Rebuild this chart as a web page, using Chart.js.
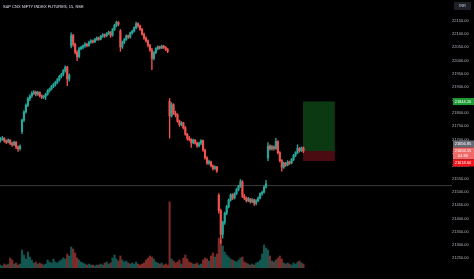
<!DOCTYPE html>
<html>
<head>
<meta charset="utf-8">
<script src="https://cdn.jsdelivr.net/npm/chart.js@4.4.1/dist/chart.umd.min.js"></script>
<style>
  html, body { margin: 0; padding: 0; background: #000; }
  #wrap { width: 474px; height: 279px; position: relative; }
</style>
</head>
<body>
<div id="wrap"><canvas id="myChart"></canvas></div>
<script>
// 15 min candles, Nifty futures, Jan 2024 (index 0 = first visible bar)
const chartTitle = 'S&P CNX NIFTY INDEX FUTURES, 15, NSE';
const currency = 'INR';
const dayLabels = ['12', '15', '16', '17', '18', '19', '20', '22', '23', '24'];
const dayStarts = [11, 36, 61, 86, 111, 136, 161, 175, 200, 225];

// [open, high, low, close]
const candles = [
  // 11
  [21695,21708,21690,21700],[21700,21712,21697,21705],[21705,21707,21690,21695],[21695,21699,21684,21690],
  [21690,21703,21687,21698],[21698,21700,21680,21685],[21685,21690,21674,21680],[21680,21694,21677,21690],
  [21690,21692,21665,21672],[21672,21676,21655,21665],[21665,21680,21660,21675],
  // 12
  [21730,21778,21722,21774],[21774,21810,21768,21805],[21805,21836,21800,21830],[21830,21860,21825,21855],
  [21855,21870,21848,21866],[21866,21882,21860,21876],[21876,21886,21870,21880],[21880,21884,21866,21872],
  [21872,21883,21868,21879],[21879,21881,21862,21866],[21866,21870,21855,21860],[21860,21868,21856,21864],
  [21864,21876,21852,21872],[21872,21889,21868,21885],[21885,21896,21880,21892],[21892,21906,21888,21902],
  [21902,21914,21897,21910],[21910,21922,21903,21918],[21918,21932,21912,21928],[21928,21944,21922,21940],
  [21940,21952,21934,21948],[21948,21966,21942,21962],[21962,21980,21956,21975],[21975,21978,21905,21930],
  [21930,21950,21922,21945],
  // 15
  [22055,22105,22048,22095],[22095,22100,22055,22062],[22062,22066,22025,22032],[22032,22038,22000,22015],
  [22015,22050,22010,22045],[22045,22055,22040,22050],[22050,22060,22044,22056],[22056,22068,22050,22062],
  [22062,22065,22052,22057],[22057,22074,22054,22070],[22070,22080,22065,22075],[22075,22078,22066,22071],
  [22071,22084,22068,22080],[22080,22090,22076,22086],[22086,22089,22076,22081],[22081,22096,22078,22092],
  [22092,22102,22088,22098],[22098,22101,22088,22094],[22094,22106,22090,22102],[22102,22112,22098,22108],
  [22108,22110,22088,22096],[22096,22122,22092,22118],[22118,22138,22114,22134],[22134,22150,22128,22145],
  [22145,22148,22132,22138],
  // 16
  [22112,22118,22035,22052],[22052,22074,22046,22070],[22070,22084,22064,22080],[22080,22098,22076,22094],
  [22094,22097,22084,22089],[22089,22108,22085,22105],[22105,22116,22100,22112],[22112,22128,22108,22125],
  [22125,22146,22120,22140],[22140,22143,22126,22132],[22132,22135,22114,22118],[22118,22122,22096,22100],
  [22100,22104,22080,22085],[22085,22090,22070,22075],[22075,22079,22052,22058],[22058,22062,22035,22040],
  [22040,22046,21965,22008],[22008,22034,22002,22030],[22030,22049,22026,22045],[22045,22056,22040,22052],
  [22052,22055,22043,22048],[22048,22059,22045,22055],[22055,22058,22046,22050],[22050,22053,22038,22042],
  [22042,22046,22030,22035],
  // 17
  [21845,21856,21705,21790],[21790,21840,21785,21832],[21832,21836,21795,21800],[21800,21808,21786,21794],
  [21794,21798,21765,21770],[21770,21774,21750,21756],[21756,21768,21752,21763],[21763,21766,21740,21745],
  [21745,21750,21716,21720],[21720,21724,21698,21705],[21705,21712,21695,21700],[21700,21704,21670,21688],
  [21688,21702,21684,21698],[21698,21700,21682,21686],[21686,21690,21670,21676],[21676,21690,21672,21686],
  [21686,21700,21680,21696],[21696,21698,21655,21660],[21660,21664,21625,21630],[21630,21635,21605,21610],
  [21610,21622,21605,21616],[21616,21618,21596,21600],[21600,21604,21584,21590],[21590,21600,21586,21596],
  [21596,21598,21575,21580],
  // 18
  [21488,21495,21420,21430],[21430,21436,21305,21340],[21340,21390,21325,21385],[21385,21424,21378,21420],
  [21420,21450,21414,21445],[21445,21474,21440,21470],[21470,21494,21466,21490],[21490,21494,21472,21478],
  [21478,21498,21474,21495],[21495,21514,21490,21510],[21510,21526,21505,21522],[21522,21548,21518,21540],
  [21540,21544,21480,21485],[21485,21492,21472,21478],[21478,21482,21462,21468],[21468,21480,21464,21474],
  [21474,21477,21458,21464],[21464,21476,21460,21471],[21471,21474,21450,21458],[21458,21472,21452,21468],
  [21468,21482,21464,21478],[21478,21498,21474,21495],[21495,21504,21488,21500],[21500,21524,21496,21520],
  [21520,21545,21515,21532],
  // 19
  [21630,21688,21620,21675],[21675,21680,21660,21665],[21665,21678,21660,21672],[21672,21676,21660,21667],
  [21667,21705,21662,21692],[21692,21696,21645,21650],[21650,21654,21615,21620],[21620,21624,21580,21595],
  [21595,21614,21590,21610],[21610,21613,21598,21604],[21604,21620,21600,21615],[21615,21618,21605,21611],
  [21611,21628,21608,21625],[21625,21644,21620,21640],[21640,21654,21635,21650],[21650,21680,21646,21666],
  [21666,21670,21652,21658],[21658,21672,21654,21668],[21668,21672,21650,21656.55]
];

// volume, thousand contracts (estimated)
const volumes = [
  3,2,4,3,4,10,8,4,5,3,4,
  18,13,9,16,11,8,5,6,4,5,4,3,4,8,6,5,9,6,5,7,8,10,9,14,12,
  21,19,15,10,8,6,5,4,3,4,3,3,2,3,3,4,3,5,6,4,5,10,13,9,7,
  12,8,6,7,5,4,5,4,6,4,3,4,5,8,10,12,11,9,6,5,4,5,3,4,3,
  66,9,7,5,6,8,4,10,13,9,6,5,4,4,5,3,4,8,10,9,7,12,15,11,14,
  30,28,22,16,13,11,9,8,7,6,8,10,11,6,5,4,3,4,3,5,6,8,14,23,20,
  18,12,7,6,8,10,12,9,5,4,5,4,3,5,4,6,7,5,4
];

const lineLevel = 21525;
const targetPrice = 21844.20;
const entryPrice = 21656.85;
const stopPrice = 21618.60;
const positionFrom = 153.7;
const positionTo = 170;
const lastPrice = 21656.55;
const countdown = '04:30';

const UP = '#26a69a', DOWN = '#ef5350';
const isUp = c => c[3] >= c[0];

const tvOverlay = {
  id: 'tvOverlay',
  beforeDraw(chart) {
    const ctx = chart.ctx;
    ctx.save();
    ctx.fillStyle = '#000';
    ctx.fillRect(0, 0, chart.width, chart.height);
    ctx.restore();
  },
  afterDraw(chart) {
    const ctx = chart.ctx;
    const area = chart.chartArea;
    const y = chart.scales.y;
    ctx.save();
    ctx.font = '4px "Liberation Sans", Arial, sans-serif';
    ctx.textBaseline = 'middle';

    // title
    ctx.fillStyle = '#e0e3eb';
    ctx.textAlign = 'left';
    ctx.fillText(chartTitle, 3, 6.5);

    // currency box
    ctx.fillStyle = '#1e2028';
    ctx.fillRect(454, 2, 17, 8);
    ctx.fillStyle = '#c8cbd3';
    ctx.textAlign = 'center';
    ctx.fillText(currency, 462.5, 6.2);

    const cx = (area.right + chart.width) / 2;
    const badge = (cy, h, bg, lines) => {
      ctx.fillStyle = bg;
      ctx.fillRect(area.right + 1, cy - h / 2, chart.width - area.right - 1, h);
      ctx.fillStyle = '#ffffff';
      ctx.textAlign = 'center';
      lines.forEach((t, k) => {
        ctx.fillText(t, cx, cy - (lines.length - 1) * 2.5 + k * 5 + 0.3);
      });
    };

    badge(y.getPixelForValue(targetPrice), 7, '#1f9d35', [targetPrice.toFixed(2)]);
    const lastY = y.getPixelForValue(lastPrice);
    const lastTop = lastY - 3.5, lastH = 12;
    badge(lastTop - 3.5, 7, '#676a75', [entryPrice.toFixed(2)]);
    badge(lastTop + lastH / 2, lastH, '#ef6a68', [lastPrice.toFixed(2), countdown]);
    badge(Math.max(y.getPixelForValue(stopPrice), lastTop + lastH + 3.5), 7, '#f2141a', [stopPrice.toFixed(2)]);
    ctx.restore();
  }
};

const ctx = document.getElementById('myChart').getContext('2d');

new Chart(ctx, {
  type: 'bar',
  data: {
    datasets: [
      {
        type: 'line',
        data: [{ x: positionFrom, y: targetPrice }, { x: positionTo, y: targetPrice }],
        fill: { value: entryPrice },
        backgroundColor: '#0b3a12',
        borderWidth: 0,
        pointRadius: 0,
        order: 9
      },
      {
        type: 'line',
        data: [{ x: positionFrom, y: stopPrice }, { x: positionTo, y: stopPrice }],
        fill: { value: entryPrice },
        backgroundColor: '#4a0c10',
        borderWidth: 0,
        pointRadius: 0,
        order: 8
      },
      {
        type: 'line',
        data: [{ x: -5, y: lineLevel }, { x: 240, y: lineLevel }],
        borderColor: '#3b3b3b',
        borderWidth: 1,
        pointRadius: 0,
        order: 7
      },
      {
        yAxisID: 'yVol',
        data: volumes.map((v, i) => ({ x: i, y: v })),
        backgroundColor: candles.map(c => isUp(c) ? 'rgba(38,166,154,0.5)' : 'rgba(239,83,80,0.5)'),
        barThickness: 1.5,
        grouped: false,
        order: 6
      },
      {
        data: candles.map((c, i) => ({ x: i, y: [c[2], c[1]] })),
        backgroundColor: candles.map(c => isUp(c) ? UP : DOWN),
        barThickness: 0.7,
        grouped: false,
        order: 2
      },
      {
        data: candles.map((c, i) => ({ x: i, y: [c[0], c[3]] })),
        backgroundColor: candles.map(c => isUp(c) ? UP : DOWN),
        barThickness: 1.5,
        minBarLength: 1,
        grouped: false,
        order: 1
      }
    ]
  },
  options: {
    responsive: true,
    maintainAspectRatio: false,
    animation: false,
    events: [],
    layout: { padding: 0 },
    plugins: { legend: { display: false }, tooltip: { enabled: false } },
    scales: {
      x: {
        type: 'linear',
        min: -0.18,
        max: 229.5,
        offset: false,
        grid: { display: false },
        border: { display: false },
        ticks: {
          autoSkip: false,
          maxRotation: 0,
          padding: 3,
          color: '#b2b5be',
          font: { size: 4, family: '"Liberation Sans", Arial, sans-serif' },
          callback: v => dayLabels[dayStarts.indexOf(v)] ?? ''
        },
        afterBuildTicks: axis => { axis.ticks = dayStarts.map(v => ({ value: v })); },
        afterFit: axis => { axis.height = 11; axis.paddingLeft = 0; axis.paddingRight = 0; }
      },
      y: {
        position: 'right',
        min: 21212,
        max: 22230,
        grid: { display: false, drawTicks: false },
        border: { display: false },
        ticks: {
          stepSize: 50,
          padding: 0,
          crossAlign: 'center',
          color: '#b2b5be',
          font: { size: 4, family: '"Liberation Sans", Arial, sans-serif' },
          callback: v => v.toFixed(2)
        },
        afterBuildTicks: axis => {
          axis.ticks = axis.ticks.filter(t => t.value % 50 === 0 && t.value !== 22200);
        },
        afterFit: axis => { axis.width = 22; axis.paddingTop = 0; axis.paddingBottom = 0; }
      },
      yVol: {
        display: false,
        min: 0,
        max: 268
      }
    }
  },
  plugins: [tvOverlay]
});
</script>
</body>
</html>
